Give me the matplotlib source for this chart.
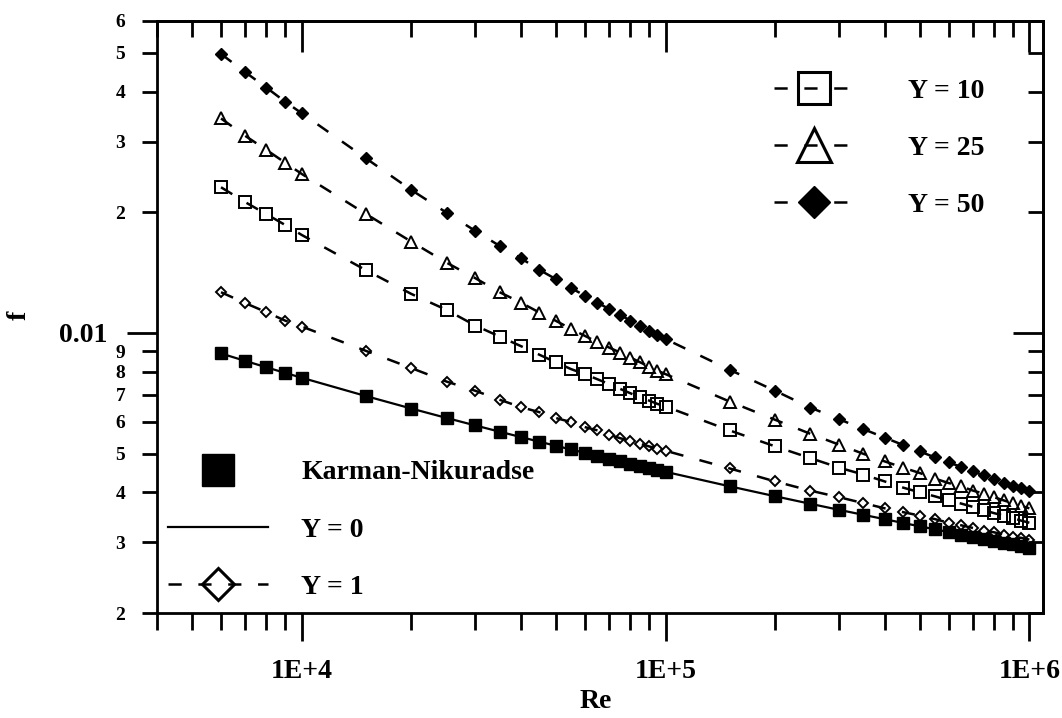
import numpy as np
import matplotlib
matplotlib.use("Agg")
import matplotlib.pyplot as plt
from matplotlib.lines import Line2D
from matplotlib.ticker import LogLocator, FuncFormatter, NullFormatter

plt.rcParams['font.family'] = ['Liberation Serif', 'DejaVu Serif']
plt.rcParams['font.weight'] = 'bold'
plt.rcParams['axes.labelweight'] = 'bold'
plt.rcParams['lines.scale_dashes'] = False

# Reynolds numbers of the computed points
re = [6000, 7000, 8000, 9000, 10000,
      15000, 20000, 25000, 30000, 35000, 40000, 45000, 50000, 55000,
      60000, 65000, 70000, 75000, 80000, 85000, 90000, 95000, 100000,
      150000, 200000, 250000, 300000, 350000, 400000, 450000, 500000, 550000,
      600000, 650000, 700000, 750000, 800000, 850000, 900000, 950000, 1000000]

# friction factor
f_kn = [0.008884, 0.008510, 0.008204, 0.007947, 0.007727,
        0.006957, 0.006475, 0.006134, 0.005875, 0.005668, 0.005497, 0.005352, 0.005226, 0.005117,
        0.005020, 0.004933, 0.004854, 0.004783, 0.004717, 0.004657, 0.004601, 0.004549, 0.004501,
        0.004142, 0.003912, 0.003746, 0.003618, 0.003515, 0.003429, 0.003355, 0.003291, 0.003235,
        0.003185, 0.003140, 0.003099, 0.003062, 0.003027, 0.002996, 0.002966, 0.002939, 0.002913]

f_y0 = list(f_kn)

f_y1 = [0.01263, 0.01186, 0.01126, 0.01073, 0.01037,
        0.00902, 0.00817, 0.00756, 0.00717, 0.00681, 0.00653, 0.00634, 0.00613, 0.00599,
        0.00582, 0.00571, 0.00557, 0.00546, 0.00538, 0.00529, 0.00521, 0.00514, 0.00508,
        0.00459, 0.00426, 0.00404, 0.00389, 0.00376, 0.00365, 0.00357, 0.00350, 0.00343,
        0.00336, 0.00331, 0.00326, 0.00321, 0.00318, 0.00314, 0.00310, 0.00308, 0.00305]

f_y10 = [0.02308, 0.02118, 0.01977, 0.01859, 0.01755,
         0.01434, 0.01251, 0.01141, 0.01043, 0.00979, 0.00927, 0.00882, 0.00844, 0.00812,
         0.00789, 0.00766, 0.00745, 0.00725, 0.00707, 0.00691, 0.00678, 0.00665, 0.00655,
         0.00571, 0.00521, 0.00487, 0.00461, 0.00443, 0.00426, 0.00411, 0.00400, 0.00391,
         0.00382, 0.00375, 0.00368, 0.00361, 0.00355, 0.00350, 0.00345, 0.00340, 0.00336]

f_y25 = [0.03427, 0.03099, 0.02860, 0.02659, 0.02492,
         0.01981, 0.01689, 0.01497, 0.01369, 0.01263, 0.01190, 0.01124, 0.01071, 0.01023,
         0.00983, 0.00948, 0.00919, 0.00893, 0.00868, 0.00845, 0.00824, 0.00805, 0.00789,
         0.00674, 0.00607, 0.00560, 0.00526, 0.00499, 0.00478, 0.00461, 0.00447, 0.00433,
         0.00422, 0.00414, 0.00404, 0.00397, 0.00389, 0.00382, 0.00376, 0.00370, 0.00365]

f_y50 = [0.04964, 0.04468, 0.04090, 0.03774, 0.03531,
         0.02727, 0.02273, 0.01995, 0.01796, 0.01648, 0.01536, 0.01436, 0.01361, 0.01293,
         0.01239, 0.01190, 0.01146, 0.01109, 0.01073, 0.01041, 0.01013, 0.00989, 0.00965,
         0.00809, 0.00717, 0.00651, 0.00609, 0.00575, 0.00548, 0.00525, 0.00506, 0.00489,
         0.00475, 0.00463, 0.00451, 0.00441, 0.00433, 0.00423, 0.00416, 0.00410, 0.00404]

dash = (0, (9.5, 12))
lw = 1.8

fig = plt.figure(figsize=(10.62, 7.18), dpi=100)
ax = fig.add_axes([0.1478, 0.1462, 0.8343, 0.8246])

ax.plot(re, f_y0, color='k', lw=1.6, zorder=2)
ax.plot(re, f_kn, ls='none', marker='s', ms=8.6, color='k', zorder=3)
ax.plot(re, f_y1, color='k', ls=dash, lw=lw, marker='D', ms=4.6, mfc='none', mec='k', mew=1.4)
ax.plot(re, f_y10, color='k', ls=dash, lw=lw, marker='s', ms=8, mfc='none', mec='k', mew=1.4)
ax.plot(re, f_y25, color='k', ls=dash, lw=lw, marker='^', ms=9, mfc='none', mec='k', mew=1.4)
ax.plot(re, f_y50, color='k', ls=dash, lw=lw, marker='D', ms=6.4, mfc='k', mec='k')

ax.set_xscale('log')
ax.set_yscale('log')
ax.set_xlim(4000, 1.09e6)
ax.set_ylim(0.002, 0.06)

ax.xaxis.set_major_locator(LogLocator(base=10))
ax.xaxis.set_minor_locator(LogLocator(base=10, subs=np.arange(2, 10)))
ax.xaxis.set_major_formatter(FuncFormatter(lambda v, p: "1E+%d" % round(np.log10(v))))
ax.xaxis.set_minor_formatter(NullFormatter())
ax.yaxis.set_major_locator(LogLocator(base=10))
ax.yaxis.set_minor_locator(LogLocator(base=10, subs=np.arange(2, 10)))
ax.yaxis.set_major_formatter(FuncFormatter(lambda v, p: "%g" % v))
ax.yaxis.set_minor_formatter(FuncFormatter(
    lambda v, p: "%d" % round(v / 10 ** np.floor(np.log10(v) + 1e-9))))

ax.tick_params(axis='x', which='major', direction='out', length=20, width=2, pad=13, labelsize=20)
ax.tick_params(axis='x', which='minor', direction='out', length=12, width=2)
ax.tick_params(axis='y', which='major', direction='out', length=21.6, width=2, pad=14, labelsize=20)
ax.tick_params(axis='y', which='minor', direction='out', length=10.8, width=2, pad=12, labelsize=14)
for s in ax.spines.values():
    s.set_linewidth(2)

# mirrored ticks pointing inward
sx = ax.secondary_xaxis('top')
sx.xaxis.set_major_locator(LogLocator(base=10))
sx.xaxis.set_minor_locator(LogLocator(base=10, subs=np.arange(2, 10)))
sx.tick_params(which='major', direction='in', length=22, width=2, labeltop=False)
sx.tick_params(which='minor', direction='in', length=11.5, width=2, labeltop=False)
sx.spines['top'].set_linewidth(2)

sy = ax.secondary_yaxis('right')
sy.yaxis.set_major_locator(LogLocator(base=10))
sy.yaxis.set_minor_locator(LogLocator(base=10, subs=np.arange(2, 10)))
sy.tick_params(which='major', direction='in', length=21.6, width=2, labelright=False)
sy.tick_params(which='minor', direction='in', length=10.8, width=2, labelright=False)
sy.spines['right'].set_linewidth(2)

ax.set_xlabel("Re", fontsize=20, fontweight='bold')
ax.xaxis.set_label_coords(0.4955, -0.128)
ax.set_ylabel("f", fontsize=20, fontweight='bold')
ax.yaxis.set_label_coords(-0.141, 0.503)

# legends
h10 = Line2D([], [], color='k', ls=dash, lw=lw, marker='s', ms=23, mfc='none', mec='k', mew=2.2)
h25 = Line2D([], [], color='k', ls=dash, lw=lw, marker='^', ms=24, mfc='none', mec='k', mew=2.2)
h50 = Line2D([], [], color='k', ls=dash, lw=lw, marker='D', ms=16.8, mfc='k', mec='k')
leg1 = ax.legend([h10, h25, h50], ["Y = 10", "Y = 25", "Y = 50"],
                 loc='upper left', bbox_to_anchor=(0.6964, 0.9035), frameon=False,
                 borderpad=0, borderaxespad=0, handlelength=2.88, handletextpad=1.94,
                 labelspacing=1.14, fontsize=20)
ax.add_artist(leg1)

hkn = Line2D([], [], ls='none', marker='s', ms=23, color='k')
h0 = Line2D([], [], color='k', lw=1.6)
h1 = Line2D([], [], color='k', ls=dash, lw=lw, marker='D', ms=16.8, mfc='none', mec='k', mew=2.2)
ax.legend([hkn, h0, h1], ["Karman-Nikuradse", "Y = 0", "Y = 1"],
          loc='upper left', bbox_to_anchor=(0.0124, 0.2585), frameon=False,
          borderpad=0, borderaxespad=0, handlelength=3.6, handletextpad=1.19,
          labelspacing=1.14, fontsize=20)

fig.savefig("out.png", dpi=100)
